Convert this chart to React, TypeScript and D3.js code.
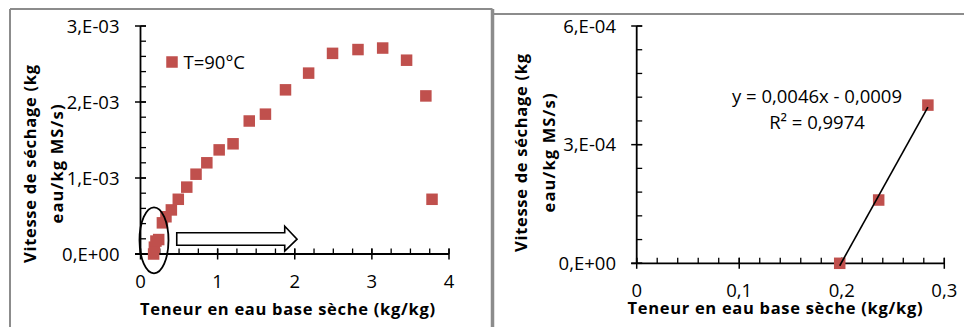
import React from 'react';
import * as d3 from 'd3';

// Drying rate vs moisture content, T = 90°C
const moistureAll = [0.17, 0.18, 0.2, 0.236, 0.284, 0.33, 0.4, 0.49, 0.6, 0.72, 0.86, 1.02, 1.2, 1.41, 1.62, 1.88, 2.18, 2.49, 2.82, 3.14, 3.45, 3.7, 3.78];
const rateAll = [0.0, 0.00009, 0.00017, 0.00019, 0.00041, 0.00049, 0.00058, 0.00072, 0.00088, 0.00105, 0.0012, 0.00137, 0.00145, 0.00175, 0.00184, 0.00216, 0.00238, 0.00264, 0.00269, 0.00271, 0.00255, 0.00208, 0.00072];

// zoom on the falling-rate end
const moistureEnd = [0.198, 0.236, 0.284];
const rateEnd = [0.0, 0.00016, 0.0004];

const leftXTicks = [0, 1, 2, 3, 4];
const leftYTicks = [0, 0.001, 0.002, 0.003];
const leftYLabels = ['0,E+00', '1,E-03', '2,E-03', '3,E-03'];
const rightXTicks = [0, 0.1, 0.2, 0.3];
const rightXLabels = ['0', '0,1', '0,2', '0,3'];
const rightYTicks = [0, 0.0003, 0.0006];
const rightYLabels = ['0,E+00', '3,E-04', '6,E-04'];

const legendLabel = 'T=90°C';
const xTitle = 'Teneur en eau base sèche (kg/kg)';
const yTitle1 = 'Vitesse de séchage (kg';
const yTitle2 = 'eau/kg MS/s)';

const RED = '#C0504D';
const FONT = '"Open Sans", "Liberation Sans", sans-serif';
const FS = 18.5;

const range = (a: number, b: number, step: number) => {
  const out: number[] = [];
  for (let i = 0; a + i * step <= b + 1e-12; i++) out.push(a + i * step);
  return out;
};

type AxesProps = {
  x: d3.ScaleLinear<number, number>;
  y: d3.ScaleLinear<number, number>;
  xTicks: number[];
  xLabels: string[];
  xMinor: number[];
  yTicks: number[];
  yLabels: string[];
  yMinor: number[];
  xLabelY: number;
  yLabelX: number;
};

const Axes = ({ x, y, xTicks, xLabels, xMinor, yTicks, yLabels, yMinor, xLabelY, yLabelX }: AxesProps) => {
  const x0 = x(0);
  const y0 = y(0);
  const [, yTop] = y.range();
  const [, xRight] = x.range();
  return (
    <g stroke="#000">
      <line x1={x0} x2={x0} y1={y0} y2={yTop} strokeWidth={1.8} />
      <line x1={x0 - 5.5} x2={xRight} y1={y0} y2={y0} strokeWidth={1.8} />
      {yMinor.map((v, i) => (
        <line key={'ym' + i} x1={x0} x2={x0 + 5.5} y1={y(v)} y2={y(v)} strokeWidth={1.3} />
      ))}
      {yTicks.map((v, i) => (
        <line key={'yt' + i} x1={x0 - 5.5} x2={x0 + 5.5} y1={y(v)} y2={y(v)} strokeWidth={1.5} />
      ))}
      {xMinor.map((v, i) => (
        <line key={'xm' + i} x1={x(v)} x2={x(v)} y1={y0} y2={y0 - 5.5} strokeWidth={1.3} />
      ))}
      {xTicks.map((v, i) => (
        <line key={'xt' + i} x1={x(v)} x2={x(v)} y1={y0 - 5.5} y2={y0 + 5.5} strokeWidth={1.5} />
      ))}
      <g stroke="none" fill="#000" style={{ fontFamily: FONT, fontSize: FS }}>
        {yTicks.map((v, i) => (
          <text key={'yl' + i} x={yLabelX} y={y(v) + 6.5} textAnchor="end">{yLabels[i]}</text>
        ))}
        {xTicks.map((v, i) => (
          <text key={'xl' + i} x={x(v)} y={xLabelY} textAnchor="middle">{xLabels[i]}</text>
        ))}
      </g>
    </g>
  );
};

const Titles = ({ cx, xBase, l1x, l2x, cy }: { cx: number; xBase: number; l1x: number; l2x: number; cy: number }) => (
  <g fill="#000" style={{ fontFamily: FONT, fontSize: 16.5, fontWeight: 'bold' }}>
    <text x={cx} y={xBase} textAnchor="middle" textLength={295} lengthAdjust="spacing">{xTitle}</text>
    <text transform={`translate(${l1x},${cy}) rotate(-90)`} textAnchor="middle" textLength={198} lengthAdjust="spacing">{yTitle1}</text>
    <text transform={`translate(${l2x},${cy}) rotate(-90)`} textAnchor="middle" textLength={119} lengthAdjust="spacing">{yTitle2}</text>
  </g>
);

const App = () => {
  const xL = d3.scaleLinear().domain([0, 4]).range([140.5, 449]);
  const yL = d3.scaleLinear().domain([0, 0.003]).range([254, 26]);
  const xR = d3.scaleLinear().domain([0, 0.3]).range([636.7, 944.3]);
  const yR = d3.scaleLinear().domain([0, 0.0006]).range([263.3, 26]);

  const ms = 11.5;

  // linear trendline through the end points
  const mx = d3.mean(moistureEnd)!;
  const my = d3.mean(rateEnd)!;
  const sxy = d3.sum(moistureEnd, (v, i) => (v - mx) * (rateEnd[i] - my));
  const sxx = d3.sum(moistureEnd, (v) => (v - mx) * (v - mx));
  const slope = sxy / sxx;
  const intercept = my - slope * mx;
  const [tx0, tx1] = d3.extent(moistureEnd) as [number, number];
  const trend = d3.line<number>().x((v) => xR(v)).y((v) => yR(slope * v + intercept))([tx0, tx1]);

  // annotation: circled end zone and arrow along decreasing moisture
  const ecx = xL(0.175);
  const ecy = yL(0.00018);
  const ax0 = xL(0.47);
  const axH = xL(1.87);
  const axT = xL(2.03);
  const ay = yL(0.000195);
  const arrow = `M${ax0},${ay - 6.5} L${axH},${ay - 6.5} L${axH},${ay - 13} L${axT},${ay} L${axH},${ay + 12} L${axH},${ay + 6} L${ax0},${ay + 6} Z`;

  return (
    <svg width={964} height={327} style={{ position: 'absolute', left: 0, top: 0, background: '#fff' }}>
      {/* frames */}
      <g stroke="#8c8c8c" fill="none">
        <line x1={10} x2={10} y1={9} y2={327} strokeWidth={2} />
        <line x1={10} x2={492.5} y1={9} y2={9} strokeWidth={2} />
        <line x1={492.5} x2={492.5} y1={9} y2={327} strokeWidth={3.5} />
        <line x1={494} x2={964} y1={14} y2={14} strokeWidth={2} />
      </g>

      {/* left chart */}
      <Axes
        x={xL}
        y={yL}
        xTicks={leftXTicks}
        xLabels={leftXTicks.map(String)}
        xMinor={range(0, 4, 0.25)}
        yTicks={leftYTicks}
        yLabels={leftYLabels}
        yMinor={range(0, 0.003, 0.0002)}
        xLabelY={287.5}
        yLabelX={119.5}
      />
      <g fill={RED}>
        {moistureAll.map((v, i) => (
          <rect key={i} x={xL(v) - ms / 2} y={yL(rateAll[i]) - ms / 2} width={ms} height={ms} />
        ))}
      </g>
      <rect x={172 - ms / 2} y={62 - ms / 2} width={ms} height={ms} fill={RED} />
      <text x={183.5} y={68.5} style={{ fontFamily: FONT, fontSize: FS }}>{legendLabel}</text>
      <ellipse cx={ecx} cy={ecy} rx={14.5} ry={33} fill="none" stroke="#000" strokeWidth={1.8} />
      <path d={arrow} fill="#fff" stroke="#000" strokeWidth={1.6} strokeLinejoin="miter" />
      <Titles cx={287.5} xBase={315} l1x={35.5} l2x={63} cy={164} />

      {/* right chart */}
      <Axes
        x={xR}
        y={yR}
        xTicks={rightXTicks}
        xLabels={rightXLabels}
        xMinor={range(0, 0.3, 0.02)}
        yTicks={rightYTicks}
        yLabels={rightYLabels}
        yMinor={range(0, 0.0006, 0.00006)}
        xLabelY={297}
        yLabelX={616}
      />
      <g fill={RED}>
        {moistureEnd.map((v, i) => (
          <rect key={i} x={xR(v) - ms / 2} y={yR(rateEnd[i]) - ms / 2} width={ms} height={ms} />
        ))}
      </g>
      <path d={trend ?? ''} stroke="#000" strokeWidth={1.6} fill="none" />
      <g style={{ fontFamily: FONT, fontSize: FS }} textAnchor="middle">
        <text x={817} y={102.5}>y = 0,0046x - 0,0009</text>
        <text x={817} y={128.5}>R² = 0,9974</text>
      </g>
      <Titles cx={775} xBase={313.5} l1x={526.7} l2x={555} cy={153} />
    </svg>
  );
};

export default App;
